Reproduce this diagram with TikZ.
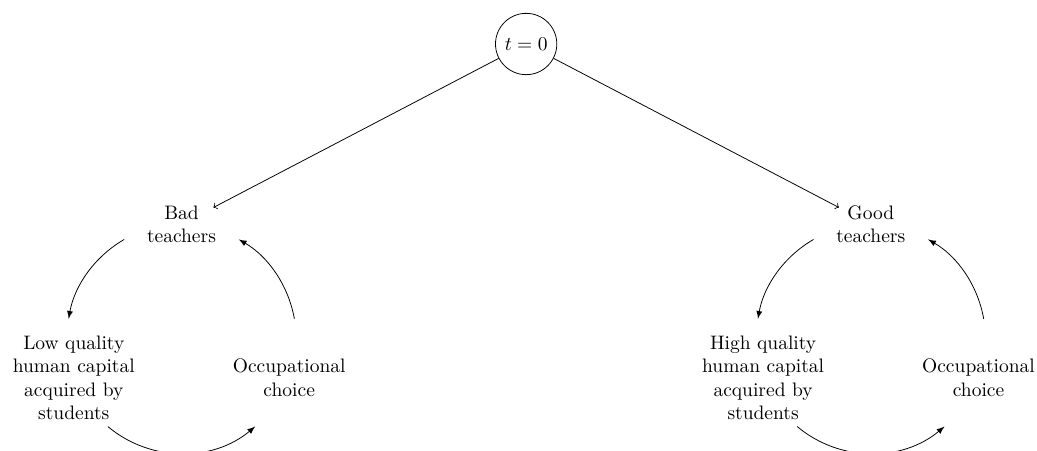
\documentclass[tikz,border=0pt]{standalone}
\usepackage{amssymb}
\usepackage{tikz}
\usetikzlibrary{calc}
\tikzset{
	stage/.style={
		align=center,
	},
	root/.style={
		circle,
		draw,
	},
	cyc/.style={
		-latex,
	},
	branch/.style={
		->,
		shorten >=-5.5pt,
	}
}
\newcommand{\rad}{2.065}

\begin{document}
\begin{tikzpicture}
	\useasboundingbox (-3.27,-2.023) rectangle (15.414,6.103);

	\coordinate (L) at (0,0);
	\coordinate (R) at (12.42,0);

	\node[root] (t0) at (6.21,5.31) {$t=0$};

	% bad cycle
	\node[stage] (bad) at ($(L)+(90:\rad)$) {Bad\\teachers};
	\node[stage] (lowhc) at ($(L)+(200:\rad)$) {Low quality\\human capital\\acquired by\\students};
	\node[stage] (occL) at ($(L)+(340:\rad)$) {Occupational\\choice};

	\coordinate (l1) at ($(L)+(120:\rad)$);
	\coordinate (l2) at ($(L)+(230:\rad)$);
	\coordinate (l3) at ($(L)+(10:\rad)$);
	\draw[cyc] (l1) arc (120:170:\rad);
	\draw[cyc] (l2) arc (230:310:\rad);
	\draw[cyc] (l3) arc (10:60:\rad);

	% good cycle
	\node[stage] (good) at ($(R)+(90:\rad)$) {Good\\teachers};
	\node[stage] (highhc) at ($(R)+(200:\rad)$) {High quality\\human capital\\acquired by\\students};
	\node[stage] (occR) at ($(R)+(340:\rad)$) {Occupational\\choice};

	\coordinate (r1) at ($(R)+(120:\rad)$);
	\coordinate (r2) at ($(R)+(230:\rad)$);
	\coordinate (r3) at ($(R)+(10:\rad)$);
	\draw[cyc] (r1) arc (120:170:\rad);
	\draw[cyc] (r2) arc (230:310:\rad);
	\draw[cyc] (r3) arc (10:60:\rad);

	\draw[branch] (t0) -- (bad);
	\draw[branch] (t0) -- (good);
\end{tikzpicture}
\end{document}
